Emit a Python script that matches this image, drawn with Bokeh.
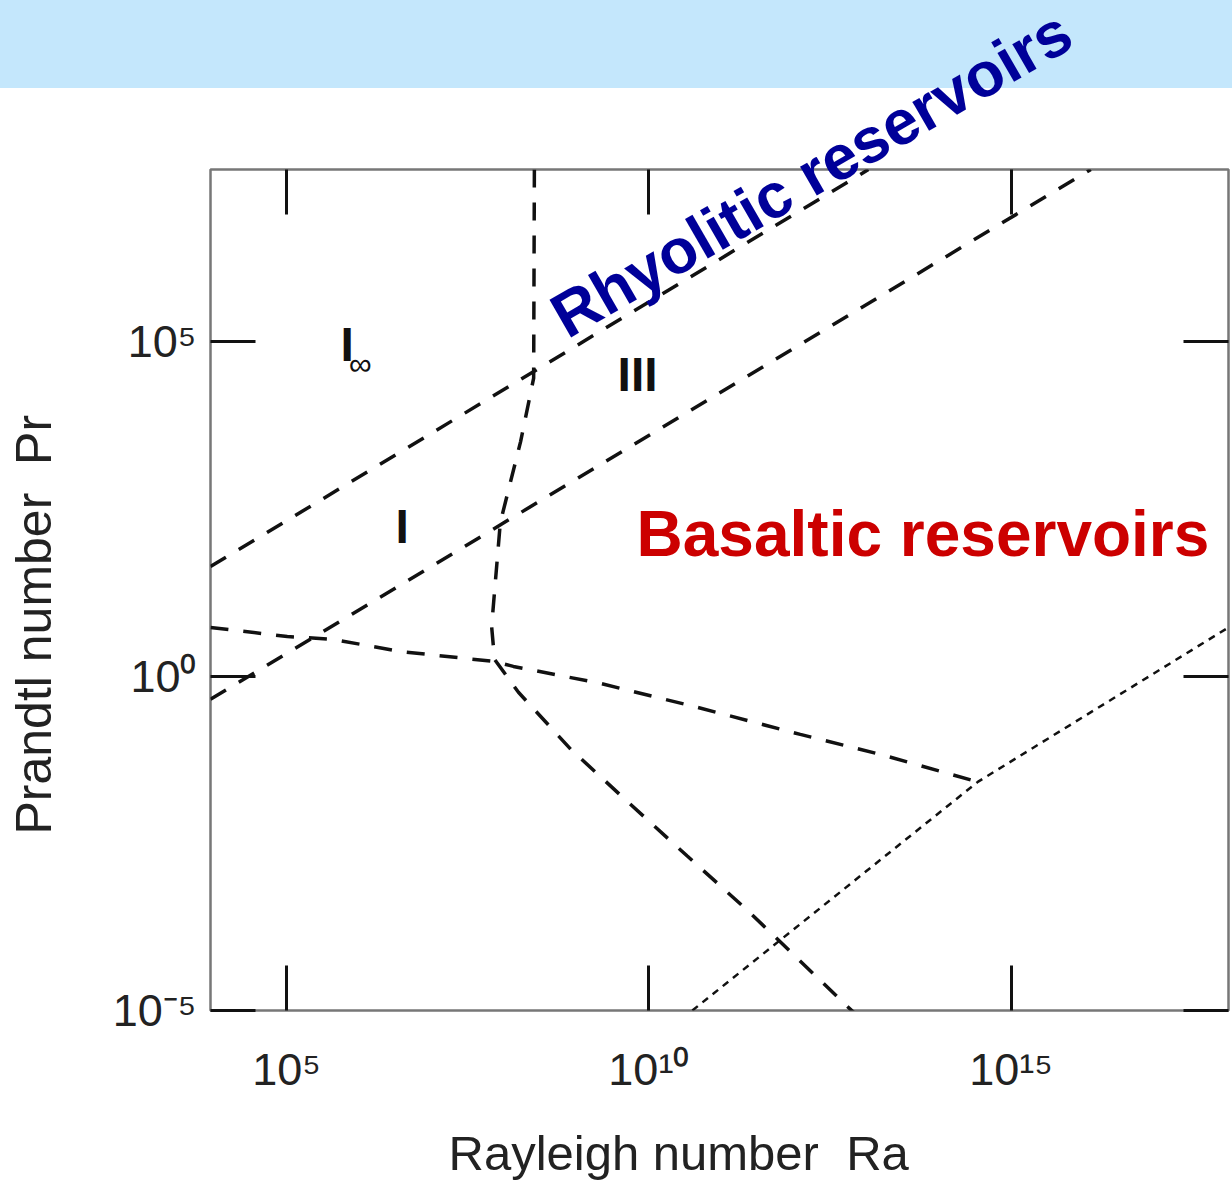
import numpy as np
from bokeh.plotting import figure
from bokeh.layouts import column
from bokeh.models import Range1d, FixedTicker, LogAxis, Label
from bokeh.embed import file_html
from bokeh.resources import INLINE

# ---- data (log10 values) ----
ra_ticks = [1e5, 1e10, 1e15]
ra_tick_labels = ["10\u2075", "10\u00b9\u2070", "10\u00b9\u2075"]
pr_ticks = [1e-5, 1e0, 1e5]
pr_tick_labels = ["10\u207b\u2075", "10\u2070", "10\u2075"]

# upper diagonal (I_inf / I boundary, rhyolitic line)
lineA_log_ra = [3.95, 13.03]
lineA_log_pr = [1.64, 7.58]
# lower diagonal (I / III boundary)
lineB_log_ra = [3.95, 16.10]
lineB_log_pr = [-0.345, 7.58]
# near-vertical boundary continuing into steep descending line
lineC_log_ra = [8.42, 8.41, 8.23, 7.95, 7.83, 7.87, 8.20, 8.92, 9.71, 10.53, 11.36, 12.74, 12.85]
lineC_log_pr = [7.58, 4.46, 3.51, 2.30, 0.745, 0.252, -0.24, -1.09, -1.88, -2.69, -3.50, -4.94, -5.05]
# gently descending curve
lineD_log_ra = [3.95, 5.01, 5.65, 6.57, 7.87, 8.13, 9.33, 10.67, 12.09, 13.20, 14.54]
lineD_log_pr = [0.73, 0.595, 0.55, 0.37, 0.22, 0.147, -0.107, -0.465, -0.87, -1.17, -1.58]
# dotted line
lineF_log_ra = [10.60, 14.54, 18.0]
lineF_log_pr = [-5.0, -1.58, 0.73]

W, H = 1232, 1182
LEFT, RIGHT, TOP, BOTTOM = 210, 4, 169, 170
x_lo, x_hi = 10 ** 3.95, 10 ** 18.0
y_lo, y_hi = 1e-5, 10 ** 7.58
FONT = "Liberation Sans"

# ---------------- main chart ----------------
p = figure(width=W, height=H, x_axis_type="log", y_axis_type="log",
           x_range=Range1d(x_lo, x_hi), y_range=Range1d(y_lo, y_hi),
           output_backend="svg", toolbar_location=None,
           min_border_left=LEFT, min_border_right=RIGHT, min_border_top=TOP, min_border_bottom=BOTTOM)
p.border_fill_color = "white"
p.background_fill_color = "white"
p.outline_line_color = "#777777"
p.outline_line_width = 2.5
p.xgrid.visible = False
p.ygrid.visible = False

def style_axis(ax, ticks, labels, show_labels=True):
    ax.ticker = FixedTicker(ticks=ticks, minor_ticks=[])
    ax.axis_line_color = None
    ax.major_tick_line_color = "#111111"
    ax.major_tick_line_width = 3
    ax.major_tick_in = 45
    ax.major_tick_out = 0
    ax.minor_tick_line_color = None
    ax.major_label_text_font = FONT
    if show_labels:
        ax.major_label_overrides = {t: l for t, l in zip(ticks, labels)}
        ax.major_label_text_font_size = "45px"
        ax.major_label_text_color = "#222222"
    else:
        ax.major_label_overrides = {t: "" for t in ticks}
        ax.major_label_text_font_size = "0px"
        ax.major_label_standoff = 0

style_axis(p.xaxis[0], ra_ticks, ra_tick_labels)
style_axis(p.yaxis[0], pr_ticks, pr_tick_labels)
p.xaxis[0].major_label_standoff = 33
p.yaxis[0].major_label_standoff = 14
p.xaxis[0].axis_label = "Rayleigh number \u00a0Ra" + "\u00a0" * 6
p.yaxis[0].axis_label = "Prandtl number \u00a0Pr" + "\u00a0" * 5
for ax in (p.xaxis[0], p.yaxis[0]):
    ax.axis_label_text_font = FONT
    ax.axis_label_text_font_style = "normal"
    ax.axis_label_text_color = "#222222"
p.xaxis[0].axis_label_text_font_size = "49px"
p.yaxis[0].axis_label_text_font_size = "50px"
p.xaxis[0].axis_label_standoff = 28
p.yaxis[0].axis_label_standoff = 48

top_ax = LogAxis()
style_axis(top_ax, ra_ticks, ra_tick_labels, show_labels=False)
p.add_layout(top_ax, "above")
right_ax = LogAxis()
style_axis(right_ax, pr_ticks, pr_tick_labels, show_labels=False)
p.add_layout(right_ax, "right")

def pw(a):
    return np.power(10.0, np.array(a))

dash = "18 15"
p.line(pw(lineA_log_ra), pw(lineA_log_pr), line_color="#111111", line_width=3.5, line_dash=dash)
p.line(pw(lineB_log_ra), pw(lineB_log_pr), line_color="#111111", line_width=3.5, line_dash=dash)
p.line(pw(lineC_log_ra), pw(lineC_log_pr), line_color="#111111", line_width=3.5, line_dash=dash)
p.line(pw(lineD_log_ra), pw(lineD_log_pr), line_color="#111111", line_width=3.5, line_dash=dash)
p.line(pw(lineF_log_ra), pw(lineF_log_pr), line_color="#111111", line_width=2.5, line_dash="7 6")

def lab(fig, text, x, y, size, color="#111111", style="bold", angle=0.0):
    fig.add_layout(Label(x=x, y=y, text=text, text_font=FONT,
                         text_font_size=size, text_font_style=style, text_color=color,
                         text_baseline="alphabetic", text_align="left", angle=angle))

lab(p, "I", 10 ** 5.744, 10 ** 4.968, "48px")
lab(p, "\u221e", 10 ** 5.86, 10 ** 4.67, "32px", style="normal")
lab(p, "III", 10 ** 9.568, 10 ** 4.52, "48px")
lab(p, "I", 10 ** 6.503, 10 ** 2.237, "48px")
lab(p, "Basaltic reservoirs", 10 ** 9.83, 10 ** 2.132, "64px", color="#CC0000")

# ------- overlay (banner + slanted annotation), in page-pixel units -------
ov = figure(width=W, height=H, x_range=Range1d(LEFT, W - RIGHT), y_range=Range1d(0, H),
            output_backend="svg", toolbar_location=None,
            x_axis_location=None, y_axis_location=None,
            min_border_left=LEFT, min_border_right=RIGHT, min_border_top=0, min_border_bottom=0)
ov.border_fill_color = None
ov.background_fill_color = None
ov.outline_line_color = None
ov.xgrid.visible = False
ov.ygrid.visible = False
ov.styles = {"position": "absolute", "top": "0px", "left": "0px",
             "background": "linear-gradient(to bottom, #C4E7FC 0px, #C4E7FC 88px, rgba(255,255,255,0) 88px, rgba(255,255,255,0) 100%)"}
lab(ov, "Rhyolitic reservoirs", 556, H - 320, "63px", color="#000099", angle=np.deg2rad(30))

layout = column(p, ov)
open("out.html", "w").write(file_html(layout, INLINE))
